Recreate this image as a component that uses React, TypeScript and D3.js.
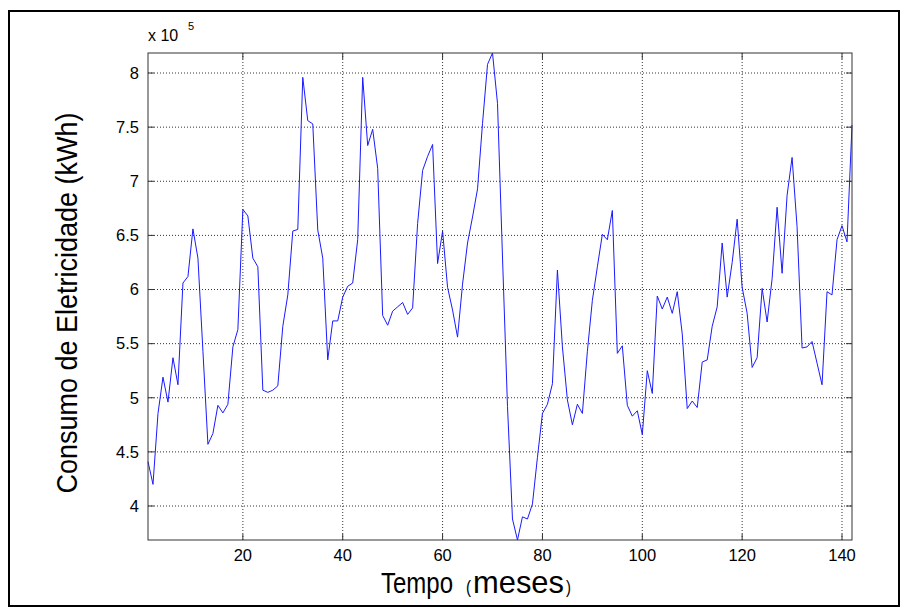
import * as d3 from "d3";

// Consumo mensal de eletricidade (kWh), meses 1..142
const consumo = [
  441000, 420000, 485500, 519000, 496000, 537000, 512000, 606000, 612000, 656000,
  629000, 543000, 457000, 467000, 493000, 486000, 494000, 547000, 563000, 674000,
  668000, 629000, 621000, 507000, 505000, 507000, 511000, 566000, 595000, 654000,
  655500, 796000, 756000, 753000, 655000, 629000, 535000, 571000, 571000, 593000,
  603000, 606000, 646000, 796000, 733000, 748000, 712000, 576000, 567000, 580000,
  584000, 588000, 577000, 583000, 661000, 710000, 723000, 734000, 624000, 654000,
  602000, 581000, 556000, 605000, 643000, 667000, 693000, 753500, 808000, 818500,
  772000, 630000, 492000, 388000, 368600, 390000, 388000, 402000, 445000, 485500,
  494000, 513000, 618000, 547000, 498000, 475000, 494000, 485500, 543000, 590000,
  621000, 651000, 646000, 673000, 541000, 548000, 493000, 483000, 488000, 466000,
  525000, 504000, 594000, 582000, 593000, 578000, 598000, 559000, 490000, 497000,
  491000, 533000, 535000, 566000, 584000, 643000, 593000, 625000, 665000, 602000,
  578000, 528000, 537000, 601000, 570000, 610000, 676000, 615000, 687000, 722000,
  658000, 546000, 547000, 552000, 532000, 512000, 598000, 595000, 646000, 659000,
  644000, 752000,
];
const meses = consumo.map((_, i) => i + 1);

const xTicks = [20, 40, 60, 80, 100, 120, 140];
const yTicks = [400000, 450000, 500000, 550000, 600000, 650000, 700000, 750000, 800000];

const W = 902;
const H = 608;
const left = 148;
const right = 852;
const top = 53;
const bottom = 540;
const font = "'Liberation Sans', Arial, sans-serif";

export default function App() {
  const x = d3.scaleLinear().domain([1, consumo.length]).range([left, right]);
  const y = d3
    .scaleLinear()
    .domain(d3.extent(consumo) as [number, number])
    .range([bottom, top]);

  const line = d3
    .line<number>()
    .x((_, i) => x(meses[i]))
    .y((d) => y(d));

  const fmtY = (v: number) => d3.format("~g")(v / 1e5);

  return (
    <svg
      width={W}
      height={H}
      style={{ position: "absolute", left: 0, top: 0, background: "#fff" }}
      fontFamily={font}
    >
      <rect x={9} y={11} width={890} height={595} fill="#fff" stroke="#000" strokeWidth={2} />

      {/* grid */}
      {xTicks.map((t) => (
        <line
          key={"gx" + t}
          x1={x(t)}
          x2={x(t)}
          y1={top}
          y2={bottom}
          stroke="#333"
          strokeWidth={1}
          strokeDasharray="1 2"
        />
      ))}
      {yTicks.map((t) => (
        <line
          key={"gy" + t}
          x1={left}
          x2={right}
          y1={y(t)}
          y2={y(t)}
          stroke="#333"
          strokeWidth={1}
          strokeDasharray="1 2"
        />
      ))}

      {/* data */}
      <path d={line(consumo) ?? ""} fill="none" stroke="#1a1aff" strokeWidth={1} />

      {/* axes box and inner ticks */}
      <rect x={left} y={top} width={right - left} height={bottom - top} fill="none" stroke="#333" strokeWidth={1} />
      {xTicks.map((t) => (
        <g key={"tx" + t} stroke="#333">
          <line x1={x(t)} x2={x(t)} y1={bottom} y2={bottom - 6} />
          <line x1={x(t)} x2={x(t)} y1={top} y2={top + 6} />
        </g>
      ))}
      {yTicks.map((t) => (
        <g key={"ty" + t} stroke="#333">
          <line x1={left} x2={left + 6} y1={y(t)} y2={y(t)} />
          <line x1={right} x2={right - 6} y1={y(t)} y2={y(t)} />
        </g>
      ))}

      {/* tick labels */}
      {xTicks.map((t) => (
        <text key={"lx" + t} x={x(t)} y={561} fontSize={16.5} textAnchor="middle" fill="#000">
          {t}
        </text>
      ))}
      {yTicks.map((t) => (
        <text
          key={"ly" + t}
          x={139}
          y={y(t)}
          dy="0.35em"
          fontSize={16.5}
          textAnchor="end"
          fill="#000"
        >
          {fmtY(t)}
        </text>
      ))}

      {/* exponent */}
      <text x={148} y={41} fontSize={16} fill="#000">
        x 10
      </text>
      <text x={188} y={30} fontSize={11} fill="#000">
        5
      </text>

      {/* axis labels */}
      <text
        transform="translate(77,303) rotate(-90) scale(1,1.1)"
        fontSize={27}
        textAnchor="middle"
        fill="#000"
      >
        Consumo de Eletricidade (kWh)
      </text>
      <g transform="translate(0,593) scale(1,1.22)" fill="#000">
        <text x={381} fontSize={24}>
          Tempo
        </text>
        <text x={466} fontSize={15}>
          (
        </text>
        <text x={473} fontSize={25} textLength={91} lengthAdjust="spacingAndGlyphs">
          meses
        </text>
        <text x={566} fontSize={15}>
          )
        </text>
      </g>
    </svg>
  );
}
